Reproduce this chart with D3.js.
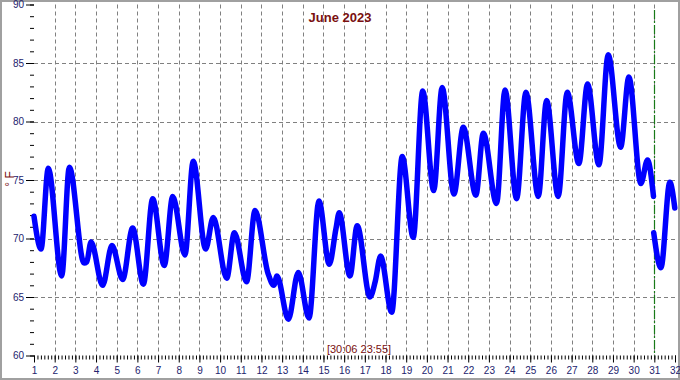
<!DOCTYPE html>
<html>
<head>
<meta charset="utf-8">
<script src="https://d3js.org/d3.v7.min.js"></script>
<style>
  body { margin: 0; background: #fff; }
  svg { display: block; font-family: "Liberation Sans", Arial, sans-serif; }
</style>
</head>
<body>
<div id="chart"></div>
<script>

// temperature readings, June 2023 (day of month, °F)
var days = [1.00, 1.34, 1.69, 2.34, 2.71, 3.42, 3.55, 3.76, 4.32, 4.77, 5.29, 5.77,
            6.29, 6.74, 7.30, 7.71, 8.30, 8.70, 9.30, 9.67, 10.32, 10.69, 11.28, 11.69,
            12.32, 12.60, 12.75, 13.30, 13.78, 14.30, 14.78, 15.28, 15.60, 15.76, 16.28, 16.63,
            17.25, 17.50, 17.76, 18.30, 18.81, 19.34, 19.80, 20.33, 20.74, 21.31, 21.76, 22.37,
            22.73, 23.37, 23.78, 24.34, 24.79, 25.39, 25.79, 26.35, 26.79, 27.35, 27.77, 28.32,
            28.77, 29.37, 29.77, 30.35, 30.67, 30.96];
var temps = [71.9, 69.1, 76.0, 66.8, 76.1, 67.9, 68.0, 69.7, 66.0, 69.4, 66.5, 70.9,
             66.1, 73.4, 67.7, 73.6, 68.6, 76.6, 69.1, 71.8, 66.6, 70.5, 66.3, 72.4,
             67.0, 66.0, 66.8, 63.1, 67.1, 63.2, 73.2, 67.8, 70.8, 72.2, 66.8, 71.1,
             65.0, 66.3, 68.5, 63.7, 77.0, 70.1, 82.6, 74.1, 82.9, 73.8, 79.5, 73.7,
             79.0, 73.0, 82.7, 73.4, 82.5, 73.6, 81.8, 73.6, 82.5, 76.4, 83.2, 76.3,
             85.7, 77.8, 83.8, 74.7, 76.7, 73.6];

// second stretch after the break at the marker
var days2 = [30.97, 31.32, 31.75, 31.99];
var temps2 = [70.5, 67.5, 74.8, 72.6];

var xTicks = d3.range(1, 33);
var yTicks = [60, 65, 70, 75, 80, 85, 90];
var nowDay = 31;
var title = "June 2023";
var stamp = "[30:06 23:55]";

var W = 680, H = 380;
var plotL = 34, plotR = 675, plotT = 4.5, plotB = 355.5;

var svg = d3.select("#chart").append("svg")
    .attr("width", W)
    .attr("height", H);

svg.append("rect")
    .attr("x", 1).attr("y", 1)
    .attr("width", W - 2).attr("height", H - 2)
    .attr("fill", "#fff")
    .attr("stroke", "#a0a0a0")
    .attr("stroke-width", 2);

var x = d3.scaleLinear().domain([1, 32]).range([plotL, plotR]);
var y = d3.scaleLinear().domain([60, 90]).range([plotB, plotT]);

// dashed grid
svg.append("g").selectAll("line")
  .data(xTicks.filter(function(d) { return d > 1 && d < 32; }))
  .enter().append("line")
    .attr("x1", function(d) { return Math.round(x(d)) + 0.5; })
    .attr("x2", function(d) { return Math.round(x(d)) + 0.5; })
    .attr("y1", plotT)
    .attr("y2", plotB)
    .attr("stroke", "#808080")
    .attr("stroke-dasharray", "4,3");

svg.append("g").selectAll("line")
  .data(yTicks.filter(function(d) { return d > 60 && d < 90; }))
  .enter().append("line")
    .attr("x1", plotL)
    .attr("x2", plotR)
    .attr("y1", function(d) { return Math.round(y(d)) + 0.5; })
    .attr("y2", function(d) { return Math.round(y(d)) + 0.5; })
    .attr("stroke", "#808080")
    .attr("stroke-dasharray", "4,3");

// Y axis, major + minor ticks
var yMinor = svg.append("g")
    .attr("transform", "translate(" + plotL + ",0)")
    .call(d3.axisLeft(y).tickValues(d3.range(60, 91, 1)).tickSize(4).tickFormat(""));
yMinor.select(".domain").remove();

var yAxis = svg.append("g")
    .attr("transform", "translate(" + plotL + ",0)")
    .call(d3.axisLeft(y).tickValues(yTicks).tickSize(8).tickPadding(2));
yAxis.select(".domain").remove();
yAxis.selectAll("text")
    .attr("fill", "#23236e")
    .style("font-size", "10px")
    .style("font-family", "Liberation Sans, Arial, sans-serif");

// X axis, major + minor ticks
var xMinor = svg.append("g")
    .attr("transform", "translate(0," + plotB + ")")
    .call(d3.axisBottom(x).tickValues(d3.range(1, 32.01, 1 / 6)).tickSize(4).tickFormat(""));
xMinor.select(".domain").remove();

var xAxis = svg.append("g")
    .attr("transform", "translate(0," + plotB + ")")
    .call(d3.axisBottom(x).tickValues(xTicks).tickSize(7).tickPadding(4).tickFormat(d3.format("d")));
xAxis.select(".domain").remove();
xAxis.selectAll("text")
    .attr("fill", "#23236e")
    .style("font-size", "10px")
    .style("font-family", "Liberation Sans, Arial, sans-serif");

// current time marker
svg.append("line")
    .attr("x1", Math.round(x(nowDay)) + 0.5)
    .attr("x2", Math.round(x(nowDay)) + 0.5)
    .attr("y1", 10)
    .attr("y2", plotB)
    .attr("stroke", "#187a18")
    .attr("stroke-width", 1.2)
    .attr("stroke-dasharray", "9,2,2,2");

// temperature line
var line = d3.line()
    .x(function(d) { return x(d[0]); })
    .y(function(d) { return y(d[1]); })
    .curve(d3.curveMonotoneX);

[d3.zip(days, temps), d3.zip(days2, temps2)].forEach(function(seg) {
  svg.append("path")
      .datum(seg)
      .attr("fill", "none")
      .attr("stroke", "#0000ff")
      .attr("stroke-width", 5.5)
      .attr("stroke-linejoin", "round")
      .attr("stroke-linecap", "round")
      .attr("d", line);
});

// texts
svg.append("text")
    .attr("x", 340)
    .attr("y", 22)
    .attr("text-anchor", "middle")
    .attr("fill", "#7a1010")
    .style("font-size", "13px")
    .style("font-weight", "bold")
    .text(title);

svg.append("text")
    .attr("x", 359)
    .attr("y", 353)
    .attr("text-anchor", "middle")
    .attr("fill", "#7a1010")
    .style("font-size", "11px")
    .text(stamp);

svg.append("text")
    .attr("transform", "translate(14,179) rotate(-90)")
    .attr("text-anchor", "middle")
    .attr("fill", "#7a1010")
    .style("font-size", "12px")
    .text("° F");

</script>
</body>
</html>
